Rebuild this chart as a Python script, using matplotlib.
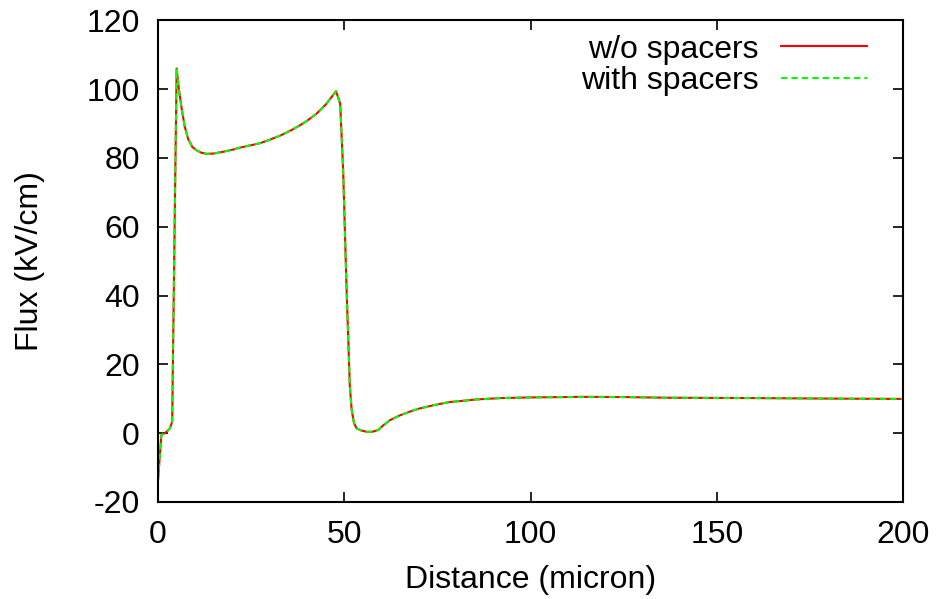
import matplotlib
matplotlib.use("Agg")
import matplotlib.pyplot as plt

plt.rcParams['font.family'] = ['Liberation Sans', 'DejaVu Sans']
plt.rcParams['axes.unicode_minus'] = False

# distance (micron) and flux (kV/cm)
dist = [0, 0.9, 2.3, 3.2, 3.8, 4.4, 5.0, 5.6, 6.4, 7.2, 8.1, 9.2, 10.4, 11.7,
        13.1, 15, 17.5, 20, 22, 25, 27.4, 30, 33, 36, 38.1, 40, 42.6, 45,
        47.8, 48.9, 49.7, 50.6, 51.5, 52.0, 52.6, 53.3, 54.5, 56, 57.5, 59.1,
        60.5, 62.3, 65, 68, 70.3, 73.9, 78, 85.5, 92, 100.7, 114, 125, 136.5,
        160, 180, 200]
flux_nosp = [-13.7, -0.6, 0.4, 1.4, 3.3, 55, 106, 100, 94, 89, 85.5, 83.2,
             82.2, 81.5, 81.2, 81.3, 81.8, 82.4, 83.0, 83.7, 84.3, 85.3, 86.6,
             88.2, 89.5, 90.8, 92.9, 95.5, 99.4, 95.8, 76.4, 42.5, 13.5, 6.7,
             3.0, 1.4, 0.8, 0.4, 0.4, 0.9, 2.3, 3.8, 5.2, 6.4, 7.2, 8.1, 9.0,
             9.8, 10.2, 10.4, 10.55, 10.5, 10.3, 10.2, 10.05, 9.95]
flux_sp = list(flux_nosp)

fig = plt.figure(figsize=(9.36, 5.99), dpi=100)
ax = fig.add_axes([0.1688, 0.162, 0.796, 0.804])

ax.plot(dist, flux_nosp, color='#ff0000', lw=1.5, label='w/o spacers')
ax.plot(dist, flux_sp, color='#00ff00', lw=1.5, ls=(0, (3, 2)), label='with spacers')

ax.set_xlim(0, 200)
ax.set_ylim(-20, 120)
ax.set_xticks([0, 50, 100, 150, 200])
ax.set_yticks(range(-20, 121, 20))
ax.tick_params(direction='in', length=7, width=1.2, top=True, right=True,
               labelsize=23, pad=13)
for s in ax.spines.values():
    s.set_linewidth(1.5)

ax.set_xlabel('Distance (micron)', fontsize=23)
ax.set_ylabel('Flux (kV/cm)', fontsize=23)
ax.xaxis.set_label_coords(0.5, -0.13)
ax.yaxis.set_label_coords(-0.152, 0.5)

ax.legend(loc='upper right', bbox_to_anchor=(0.99, 1.03), frameon=False,
          markerfirst=False, fontsize=23, handlelength=2.7, handletextpad=0.7,
          labelspacing=0.05)

fig.savefig('out.png', dpi=100)
